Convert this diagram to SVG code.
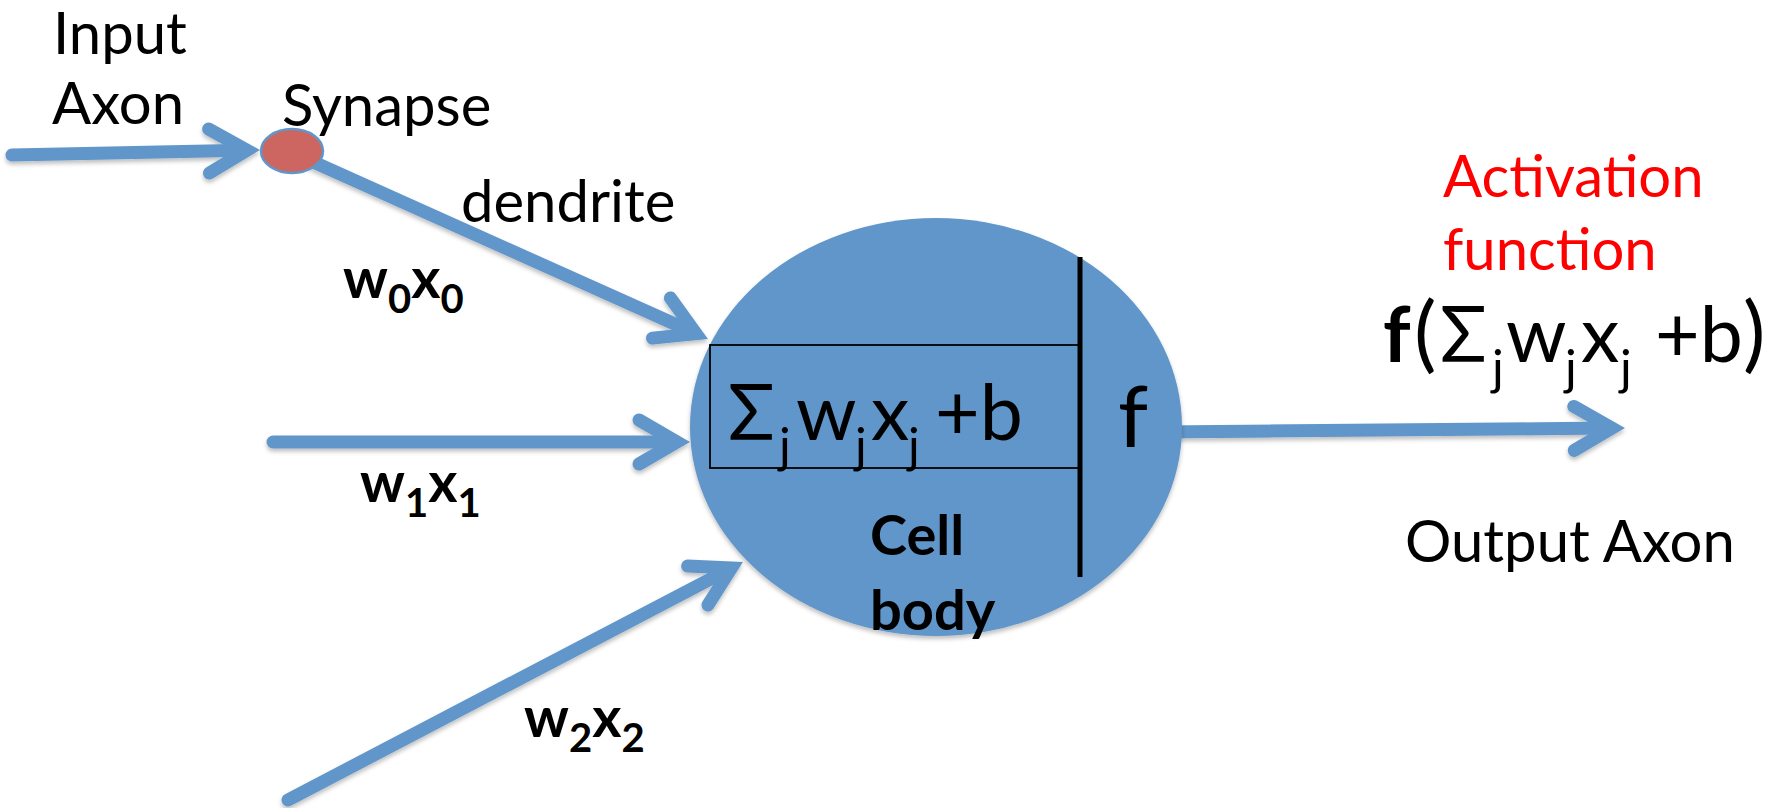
<svg xmlns="http://www.w3.org/2000/svg" width="1789" height="808" viewBox="0 0 1789 808">
<style>
.t{font-family:Lato,"Open Sans","Liberation Sans",sans-serif;font-size:58px;fill:#000}
.b{font-weight:bold;font-size:56px}
.red{fill:#FF0000}
.f{font-family:Lato,"Open Sans","Liberation Sans",sans-serif;font-size:77px;fill:#000}
.s{font-size:49px}
.sub{font-size:40px}
.ln{fill:none;stroke:#6196CA;stroke-width:13;stroke-linecap:round;marker-end:url(#chev)}
</style>
<defs>
<filter id="sh" x="-20%" y="-20%" width="140%" height="150%">
<feDropShadow dx="0" dy="3" stdDeviation="2" flood-color="#000" flood-opacity="0.25"/>
</filter>
<marker id="chev" markerUnits="userSpaceOnUse" orient="auto" refX="0" refY="0" markerWidth="120" markerHeight="120" viewBox="-60 -60 120 120" style="overflow:visible">
<path d="M-36,-22 L2,0 L-36,22" fill="none" stroke="#6196CA" stroke-width="13" stroke-linecap="round" stroke-linejoin="miter"/>
</marker>
</defs>
<rect width="1789" height="808" fill="#fff"/>
<g id="connectors" filter="url(#sh)">
<path class="ln" d="M12,155 L245,150.3"/>
<path class="ln" d="M300,156 L694.3,332.8"/>
<path class="ln" d="M273,442 L675,442"/>
<path class="ln" d="M288,800 L729.7,568.9"/>
<path class="ln" d="M1160,432 L1610,428.1"/>
</g>
<g id="synapse">
<ellipse cx="292" cy="151" rx="31" ry="22" fill="#CD6660" stroke="#6196CA" stroke-width="2.5"/>
</g>
<g id="cell-body">
<ellipse cx="936" cy="427" rx="246" ry="209" fill="#6196CA" filter="url(#sh)"/>
<rect x="710" y="345" width="370" height="123" fill="none" stroke="#000" stroke-width="1.8"/>
<line x1="1080" y1="257" x2="1080" y2="577" stroke="#000" stroke-width="5"/>
<text class="f"><tspan x="728" y="440">Σ</tspan><tspan class="s" x="779" y="463">j</tspan><tspan x="796" y="440">w</tspan><tspan class="s" x="855" y="463">j</tspan><tspan x="871" y="440">x</tspan><tspan class="s" x="908" y="463">j</tspan><tspan x="935" y="440">+b</tspan></text>
<text class="f" x="1118" y="447" style="font-size:86px">f</text>
<text class="t b" x="870" y="555">Cell</text>
<text class="t b" x="870" y="630">body</text>
</g>
<g id="labels">
<text class="t" x="53" y="54">Input</text>
<text class="t" x="52" y="124">Axon</text>
<text class="t" x="282" y="126">Synapse</text>
<text class="t" x="461" y="222">dendrite</text>
<text class="t b" x="343" y="298">w<tspan class="sub" dy="15">0</tspan><tspan dy="-15">x</tspan><tspan class="sub" dy="15">0</tspan></text>
<text class="t b" x="360" y="502">w<tspan class="sub" dy="15">1</tspan><tspan dy="-15">x</tspan><tspan class="sub" dy="15">1</tspan></text>
<text class="t b" x="524" y="737">w<tspan class="sub" dy="15">2</tspan><tspan dy="-15">x</tspan><tspan class="sub" dy="15">2</tspan></text>
<text class="t red" x="1443" y="197">Activation</text>
<text class="t red" x="1443" y="270">function</text>
<text class="f"><tspan x="1383" y="362" font-weight="bold">f</tspan><tspan x="1414" y="362" style="font-size:84px">(</tspan><tspan x="1440" y="362">Σ</tspan><tspan class="s" x="1492" y="385">j</tspan><tspan x="1506" y="362">w</tspan><tspan class="s" x="1565" y="385">j</tspan><tspan x="1581" y="362">x</tspan><tspan class="s" x="1620" y="385">j</tspan><tspan x="1655" y="362">+b</tspan><tspan x="1743" y="362" style="font-size:84px">)</tspan></text>
<text class="t" x="1405" y="562">Output Axon</text>
</g>
</svg>
